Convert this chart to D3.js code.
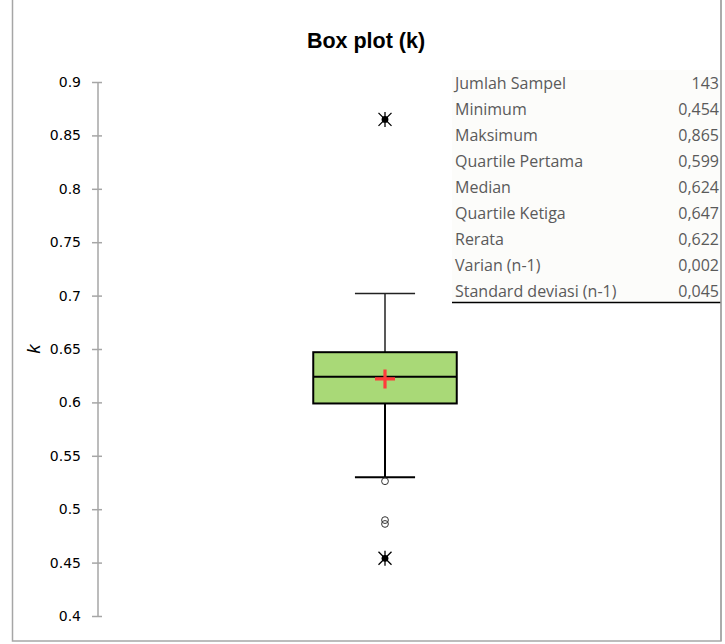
<!DOCTYPE html>
<html>
<head>
<meta charset="utf-8">
<script src="https://cdn.jsdelivr.net/npm/d3@7"></script>
<style>
  html, body { margin: 0; padding: 0; background: #fff; }
  svg { display: block; }
</style>
</head>
<body>
<svg id="chart" width="725" height="644"></svg>
<script>
// ---- data ----
const categories = ["k"];
const boxStats = { q1: 0.599, median: 0.624, q3: 0.647, mean: 0.622, whiskerLow: 0.530, whiskerHigh: 0.702 };
const outlierValues = [0.5262, 0.4898, 0.4862];   // open circles
const extremeValues = [0.865, 0.454];              // star markers
const yTicks = [0.4, 0.45, 0.5, 0.55, 0.6, 0.65, 0.7, 0.75, 0.8, 0.85, 0.9];
const tableLabels = ["Jumlah Sampel", "Minimum", "Maksimum", "Quartile Pertama", "Median", "Quartile Ketiga", "Rerata", "Varian (n-1)", "Standard deviasi (n-1)"];
const tableValues = ["143", "0,454", "0,865", "0,599", "0,624", "0,647", "0,622", "0,002", "0,045"];

const svg = d3.select("#chart");

// frame (left, right, bottom)
svg.append("path").attr("d", "M12.5,0 V641 H721 V0")
  .attr("stroke", "#a6a6a6").attr("stroke-width", 1.5).attr("fill", "none");

// title
svg.append("text").attr("x", 366).attr("y", 48).attr("text-anchor", "middle")
  .attr("font-family", "Liberation Sans, Arial, sans-serif").attr("font-weight", "bold")
  .attr("font-size", 21.5).attr("fill", "#000").text("Box plot (k)");

// scales
const y = d3.scaleLinear().domain([0.4, 0.9]).range([616, 82]);
const x = d3.scaleBand().domain(categories).range([98, 672]);
const cx = x("k") + x.bandwidth() / 2;
const boxW = x.bandwidth() * 0.25;
const capW = x.bandwidth() * 0.103;

// y axis
const axis = d3.axisLeft(y).tickValues(yTicks).tickSize(6).tickPadding(11)
  .tickFormat(d => d3.format("")(+d.toFixed(2)));
const ag = svg.append("g").attr("transform", "translate(98,0)").call(axis);
ag.select(".domain").attr("stroke", "#a6a6a6").attr("stroke-width", 1.5).attr("d", `M0,${y(0.9)}V${y(0.4)}`);
ag.selectAll(".tick line").attr("stroke", "#a6a6a6").attr("stroke-width", 1.5).attr("x1", -6).attr("x2", 4);
ag.selectAll(".tick text").attr("font-family", "DejaVu Sans, sans-serif").attr("font-size", 14).attr("fill", "#000");

// y label
svg.append("text").attr("transform", `translate(40,${y(0.65)}) rotate(-90)`).attr("text-anchor", "middle")
  .attr("font-family", "Liberation Sans, Arial, sans-serif").attr("font-style", "italic")
  .attr("font-size", 18).attr("fill", "#000").text("k");

// whiskers
const g = svg.append("g");
g.append("line").attr("x1", cx).attr("x2", cx).attr("y1", y(boxStats.q3)).attr("y2", y(boxStats.whiskerHigh))
  .attr("stroke", "#222").attr("stroke-width", 1.5);
g.append("line").attr("x1", cx - capW / 2 - 0.5).attr("x2", cx + capW / 2 + 0.5).attr("y1", y(boxStats.whiskerHigh)).attr("y2", y(boxStats.whiskerHigh))
  .attr("stroke", "#222").attr("stroke-width", 1.5);
g.append("line").attr("x1", cx).attr("x2", cx).attr("y1", y(boxStats.q1)).attr("y2", y(boxStats.whiskerLow))
  .attr("stroke", "#000").attr("stroke-width", 2);
g.append("line").attr("x1", cx - capW / 2 - 0.5).attr("x2", cx + capW / 2 + 0.5).attr("y1", y(boxStats.whiskerLow)).attr("y2", y(boxStats.whiskerLow))
  .attr("stroke", "#000").attr("stroke-width", 2);

// box
g.append("rect").attr("x", cx - boxW / 2).attr("y", y(boxStats.q3)).attr("width", boxW)
  .attr("height", y(boxStats.q1) - y(boxStats.q3)).attr("fill", "#a9d977").attr("stroke", "#000").attr("stroke-width", 2);
g.append("line").attr("x1", cx - boxW / 2).attr("x2", cx + boxW / 2).attr("y1", y(boxStats.median)).attr("y2", y(boxStats.median))
  .attr("stroke", "#000").attr("stroke-width", 2);

// mean marker
const my = y(boxStats.mean);
g.append("path").attr("d", `M${cx - 10},${my}H${cx + 10}M${cx},${my - 9.5}V${my + 9.5}`)
  .attr("stroke", "#ff3b3b").attr("stroke-width", 3.2).attr("fill", "none");

// outliers (circles)
g.selectAll("circle.out").data(outlierValues).join("circle").attr("class", "out")
  .attr("cx", cx).attr("cy", d => y(d)).attr("r", 3.4)
  .attr("fill", "none").attr("stroke", "#333").attr("stroke-width", 1);

// extremes (stars)
const stars = g.selectAll("g.star").data(extremeValues).join("g").attr("class", "star")
  .attr("transform", d => `translate(${cx},${y(d)})`);
stars.append("path").attr("d", "M0,-7.5V7.5M-6.5,-6.5L6.5,6.5M-6.5,6.5L6.5,-6.5").attr("stroke", "#000").attr("stroke-width", 1.3);
stars.append("circle").attr("r", 3.4).attr("fill", "#000");

// stats table
const tg = svg.append("g").attr("font-family", "Open Sans, Noto Sans, sans-serif").attr("font-size", 16).attr("fill", "#5a5a5a");
tg.append("rect").attr("x", 452).attr("y", 70).attr("width", 268).attr("height", 232).attr("fill", "#fcfcfa");
const rowY = d3.scaleBand().domain(d3.range(tableLabels.length)).range([71, 304]);
tg.selectAll("text.lab").data(tableLabels).join("text").attr("class", "lab")
  .attr("x", 455).attr("y", (d, i) => rowY(i) + rowY.bandwidth() / 2 + 5.5).text(d => d);
tg.selectAll("text.val").data(tableValues).join("text").attr("class", "val")
  .attr("x", 719).attr("text-anchor", "end")
  .attr("y", (d, i) => rowY(i) + rowY.bandwidth() / 2 + 5.5).text(d => d);
svg.append("line").attr("x1", 452).attr("x2", 721).attr("y1", 302.5).attr("y2", 302.5).attr("stroke", "#000").attr("stroke-width", 1.5);
svg.append("line").attr("x1", 721).attr("x2", 721).attr("y1", 0).attr("y2", 641).attr("stroke", "#a6a6a6").attr("stroke-width", 1.5);
</script>
</body>
</html>
